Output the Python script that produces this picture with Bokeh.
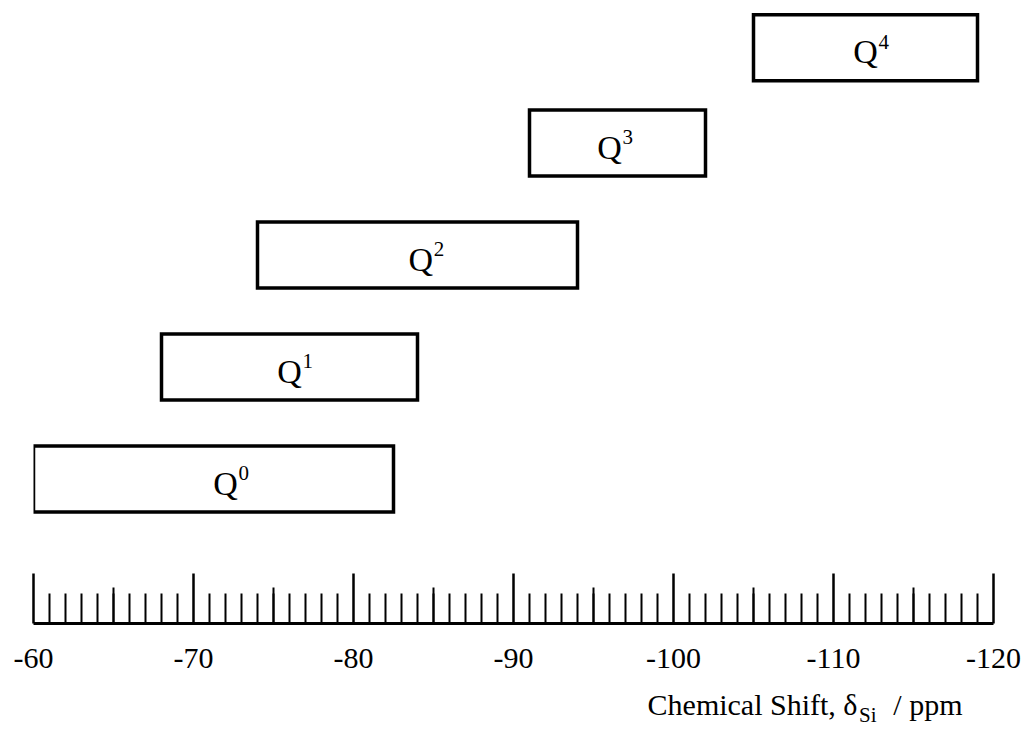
from bokeh.plotting import figure
from bokeh.layouts import column
from bokeh.models import Range1d, FixedTicker, ColumnDataSource
from bokeh.core.properties import value
from bokeh.embed import file_html
from bokeh.resources import INLINE

# ---- data ----
species = ["Q", "Q", "Q", "Q", "Q"]
superscripts = ["0", "1", "2", "3", "4"]
shift_start = [-60.0, -68.0, -74.0, -91.0, -105.0]   # ppm, left edge of range
shift_end = [-82.5, -84.0, -94.0, -102.0, -119.0]    # ppm, right edge of range
label_at = [-72.0, -76.0, -84.2, -96.0, -112.0]      # ppm, where each label sits
rows = [0, 1, 2, 3, 3.85]                            # vertical placement of the bars

major_ticks = [-60, -70, -80, -90, -100, -110, -120]
tick_labels = ["-60", "-70", "-80", "-90", "-100", "-110", "-120"]
minor_ticks = [v for v in range(-60, -121, -1) if v not in major_ticks]
mid_ticks = [-65, -75, -85, -95, -105, -115]

title_parts = ["Chemical Shift, δ", "Si", "/ ppm"]

# ---- layout ----
W, H = 1027, 748
frame_h = 623
main_h = 678
px_per_row = 112.0
y0 = -1.29
y1 = y0 + frame_h / px_per_row
FONT = "Liberation Serif"

xr = Range1d(-60, -120)
p = figure(width=W, height=main_h, output_backend="svg", toolbar_location=None,
           x_range=xr, y_range=Range1d(y0, y1),
           y_axis_type=None, min_border_left=33, min_border_right=34,
           min_border_top=0, min_border_bottom=main_h - frame_h)
p.outline_line_color = None
p.xgrid.visible = False
p.ygrid.visible = False
p.background_fill_color = "white"
p.border_fill_color = "white"

src = ColumnDataSource(dict(left=shift_start, right=shift_end, y=rows,
                            lx=label_at, q=species, sup=superscripts))

p.hbar(y="y", left="left", right="right", height=0.59, source=src,
       fill_color="white", line_color="black", line_width=3.5,
       line_join="miter")

p.text(x="lx", y="y", text="q", source=src, text_align="center",
       text_baseline="alphabetic", y_offset=4, text_font=value(FONT),
       text_font_size="34px", text_color="black")
p.text(x="lx", y="y", text="sup", source=src, text_align="left",
       text_baseline="alphabetic", x_offset=13, y_offset=-6,
       text_font=value(FONT), text_font_size="21px", text_color="black")

# axis
ax = p.xaxis[0]
ax.ticker = FixedTicker(ticks=major_ticks, minor_ticks=minor_ticks)
ax.major_label_overrides = {t: s for t, s in zip(major_ticks, tick_labels)}
ax.axis_line_width = 3
ax.axis_line_color = "black"
ax.major_tick_in = 50
ax.major_tick_out = 0
ax.major_tick_line_width = 2.5
ax.major_tick_line_color = "black"
ax.minor_tick_in = 30
ax.minor_tick_out = 0
ax.minor_tick_line_width = 2
ax.minor_tick_line_color = "black"
ax.major_label_standoff = 25
ax.major_label_text_font = FONT
ax.major_label_text_font_size = "30px"
ax.major_label_text_color = "black"

# medium ticks at every 5 ppm
mid_len = 36 / px_per_row
p.segment(x0=mid_ticks, x1=mid_ticks, y0=[y0] * len(mid_ticks),
          y1=[y0 + mid_len] * len(mid_ticks), line_color="black", line_width=2)

# ---- axis title strip: Chemical Shift, δ_Si / ppm ----
strip_h = H - main_h
t = figure(width=W, height=strip_h, output_backend="svg", toolbar_location=None,
           x_range=xr, y_range=Range1d(0, strip_h), x_axis_type=None,
           y_axis_type=None, min_border_left=33, min_border_right=34,
           min_border_top=0, min_border_bottom=0)
t.outline_line_color = None
t.xgrid.visible = False
t.ygrid.visible = False
t.background_fill_color = "white"
t.border_fill_color = "white"

# vertical centre of the title text, measured up from the strip bottom
main_mid = H - 704
sub_mid = H - 714
t.text(x=[-111.5], y=[main_mid], text=[title_parts[0]], text_align="right",
       text_baseline="middle", text_font=value(FONT), text_font_size="30px",
       text_color="black")
t.text(x=[-111.6], y=[sub_mid], text=[title_parts[1]], text_align="left",
       text_baseline="middle", text_font=value(FONT), text_font_size="21px",
       text_color="black")
t.text(x=[-118.06], y=[main_mid], text=[title_parts[2]], text_align="right",
       text_baseline="middle", text_font=value(FONT), text_font_size="30px",
       text_color="black")

open("out.html", "w").write(file_html(column(p, t, spacing=0), INLINE))
